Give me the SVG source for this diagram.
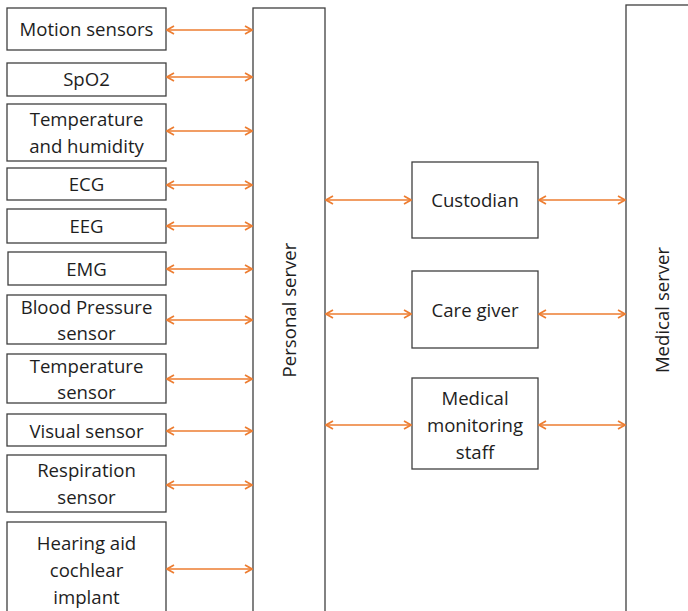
<svg xmlns="http://www.w3.org/2000/svg" width="688" height="611" viewBox="0 0 688 611">
  <style>
    .box { fill: #ffffff; stroke: #3f3f3f; stroke-width: 1.3; }
    .lbl { font-family: "Open Sans", "Liberation Sans", sans-serif; font-size: 18.6px; fill: #1e1e1e; text-anchor: middle; }
    .link { stroke: #ED7D31; stroke-width: 1.7; fill: none; marker-start: url(#tip); marker-end: url(#tip); }
  </style>
  <defs>
    <marker id="tip" viewBox="0 0 10 10" refX="9" refY="5" markerWidth="10" markerHeight="10" markerUnits="userSpaceOnUse" orient="auto-start-reverse">
      <path d="M2,1 L9,5 L2,9" fill="none" stroke="#ED7D31" stroke-width="1.7"/>
    </marker>
  </defs>
  <rect width="688" height="611" fill="#ffffff"/>

  <!-- servers -->
  <g id="personal-server">
    <rect class="box" x="253" y="8" width="72" height="610"/>
    <text class="lbl" transform="translate(296,310) rotate(-90)">Personal server</text>
  </g>
  <g id="medical-server">
    <rect class="box" x="626" y="5" width="70" height="620"/>
    <text class="lbl" transform="translate(669,310) rotate(-90)">Medical server</text>
  </g>

  <!-- sensors -->
  <g id="motion-sensors">
    <rect class="box" x="7" y="8" width="159" height="42"/>
    <text class="lbl" x="86.5" y="36">Motion sensors</text>
  </g>
  <g id="spo2">
    <rect class="box" x="7" y="63" width="159" height="33"/>
    <text class="lbl" x="86.5" y="86">SpO2</text>
  </g>
  <g id="temperature-humidity">
    <rect class="box" x="7" y="104" width="159" height="57"/>
    <text class="lbl" x="86.5" y="126">Temperature</text>
    <text class="lbl" x="86.5" y="153">and humidity</text>
  </g>
  <g id="ecg">
    <rect class="box" x="7" y="168" width="159" height="32"/>
    <text class="lbl" x="86.5" y="191">ECG</text>
  </g>
  <g id="eeg">
    <rect class="box" x="7" y="209" width="159" height="34"/>
    <text class="lbl" x="86.5" y="233">EEG</text>
  </g>
  <g id="emg">
    <rect class="box" x="8" y="252" width="158" height="33"/>
    <text class="lbl" x="86.5" y="276">EMG</text>
  </g>
  <g id="blood-pressure">
    <rect class="box" x="7" y="295" width="159" height="49"/>
    <text class="lbl" x="86.5" y="314">Blood Pressure</text>
    <text class="lbl" x="86.5" y="340">sensor</text>
  </g>
  <g id="temperature-sensor">
    <rect class="box" x="7" y="354" width="159" height="49"/>
    <text class="lbl" x="86.5" y="373">Temperature</text>
    <text class="lbl" x="86.5" y="399">sensor</text>
  </g>
  <g id="visual-sensor">
    <rect class="box" x="7" y="414" width="159" height="32"/>
    <text class="lbl" x="86.5" y="438">Visual sensor</text>
  </g>
  <g id="respiration-sensor">
    <rect class="box" x="7" y="455" width="159" height="57"/>
    <text class="lbl" x="86.5" y="477">Respiration</text>
    <text class="lbl" x="86.5" y="504">sensor</text>
  </g>
  <g id="hearing-aid">
    <rect class="box" x="7" y="522" width="159" height="100"/>
    <text class="lbl" x="86.5" y="550">Hearing aid</text>
    <text class="lbl" x="86.5" y="577">cochlear</text>
    <text class="lbl" x="86.5" y="604">implant</text>
  </g>

  <!-- care roles -->
  <g id="custodian">
    <rect class="box" x="412" y="162" width="126" height="76"/>
    <text class="lbl" x="475" y="207">Custodian</text>
  </g>
  <g id="care-giver">
    <rect class="box" x="412" y="271" width="126" height="77"/>
    <text class="lbl" x="475" y="317">Care giver</text>
  </g>
  <g id="medical-staff">
    <rect class="box" x="412" y="378" width="126" height="91"/>
    <text class="lbl" x="475" y="405">Medical</text>
    <text class="lbl" x="475" y="432">monitoring</text>
    <text class="lbl" x="475" y="459">staff</text>
  </g>

  <!-- connectors -->
  <g id="connectors">
    <line class="link" x1="167" y1="30" x2="252" y2="30"/>
    <line class="link" x1="167" y1="77" x2="252" y2="77"/>
    <line class="link" x1="167" y1="131" x2="252" y2="131"/>
    <line class="link" x1="167" y1="185" x2="252" y2="185"/>
    <line class="link" x1="167" y1="226" x2="252" y2="226"/>
    <line class="link" x1="167" y1="269" x2="252" y2="269"/>
    <line class="link" x1="167" y1="320" x2="252" y2="320"/>
    <line class="link" x1="167" y1="379" x2="252" y2="379"/>
    <line class="link" x1="167" y1="431" x2="252" y2="431"/>
    <line class="link" x1="167" y1="485" x2="252" y2="485"/>
    <line class="link" x1="167" y1="569" x2="252" y2="569"/>
    <line class="link" x1="326" y1="200" x2="411" y2="200"/>
    <line class="link" x1="326" y1="314" x2="411" y2="314"/>
    <line class="link" x1="326" y1="425" x2="411" y2="425"/>
    <line class="link" x1="539" y1="200" x2="625" y2="200"/>
    <line class="link" x1="539" y1="314" x2="625" y2="314"/>
    <line class="link" x1="539" y1="425" x2="625" y2="425"/>
  </g>
</svg>
